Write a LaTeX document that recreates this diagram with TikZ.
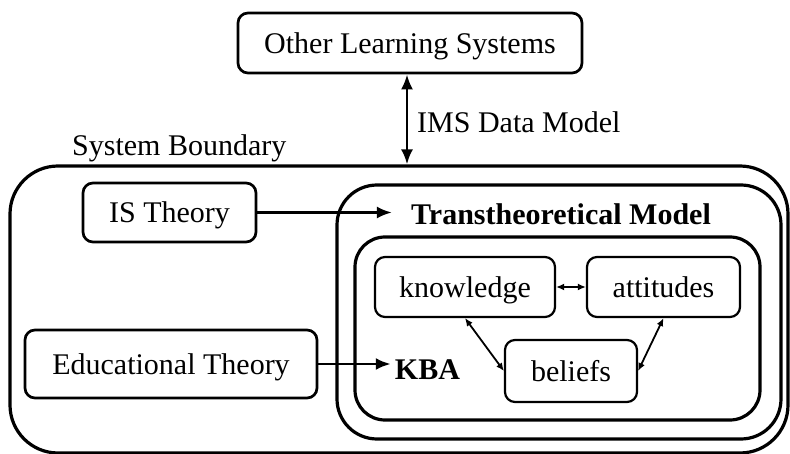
\documentclass[tikz,border=0pt]{standalone}
\usepackage{fontspec}
\setmainfont{Liberation Serif}
\usetikzlibrary{arrows.meta}
\begin{document}
\begin{tikzpicture}[x=1pt,y=-1pt,
  lbl/.style={font=\fontsize{30}{34}\selectfont, inner sep=0pt},
  bold/.style={font=\fontsize{30}{34}\selectfont\bfseries, inner sep=0pt},
  frame/.style={draw, line width=3.2pt, rounded corners=#1, inner sep=0pt},
  box/.style={draw, line width=2.7pt, rounded corners=10pt, inner sep=0pt,
    text height=21pt, text depth=0pt, font=\fontsize{30}{34}\selectfont},
  sbox/.style={draw, line width=2.2pt, rounded corners=10pt, inner sep=0pt,
    text height=21pt, text depth=0pt, font=\fontsize{30}{34}\selectfont},
  bigarrow/.style={line width=2.8pt, -{Latex[length=15pt,width=12pt]}},
  bigdbl/.style={line width=2.8pt, {Latex[length=15pt,width=12pt]}-{Latex[length=15pt,width=12pt]}},
  smallarrow/.style={line width=1.8pt, {Latex[length=8pt,width=7pt]}-{Latex[length=8pt,width=7pt]}}
]
\useasboundingbox (0,0) rectangle (790,454);
\clip (0,0) rectangle (790,454);

% containers
\node[frame=48pt, minimum width=778pt, minimum height=287pt] (outer) at (399,309.5) {};
\node[frame=40pt, minimum width=444pt, minimum height=254pt] (middle) at (559,312) {};
\node[frame=30pt, minimum width=405pt, minimum height=183pt] (inner) at (557.5,328.5) {};

% boxes
\node[box, minimum width=344pt, minimum height=60pt] (other) at (410,43) {Other Learning Systems};
\node[box, minimum width=173pt, minimum height=59pt] (is) at (169.5,212.5) {IS Theory};
\node[box, minimum width=292pt, minimum height=68pt] (edu) at (171,364) {Educational Theory};
\node[sbox, minimum width=180pt, minimum height=60pt] (know) at (465,287) {knowledge};
\node[sbox, minimum width=153pt, minimum height=60pt] (att) at (663.5,287) {attitudes};
\node[sbox, minimum width=132pt, minimum height=62pt] (bel) at (571,371) {beliefs};

% labels
\node[lbl, anchor=base west] (sb) at (72,156) {System Boundary};
\node[lbl, anchor=base west] (ims) at (417,133) {IMS Data Model};
\node[bold, anchor=base] (tm) at (561,225) {Transtheoretical Model};
\node[bold, anchor=base] (kba) at (427.5,380) {KBA};

% connectors
\coordinate (bt) at (407,164.5);
\draw[bigdbl] (bt |- other.south) -- (bt);
\draw[bigarrow, shorten >=19pt] (is.east) -- (is.east -| tm.west);
\draw[bigarrow, shorten >=4pt] (edu.east) -- (edu.east -| kba.west);
\draw[smallarrow] (know.east) -- (att.west);
\draw[smallarrow] (know.south) -- (bel.west);
\draw[smallarrow] (att.south) -- (bel.east);
\end{tikzpicture}
\end{document}
